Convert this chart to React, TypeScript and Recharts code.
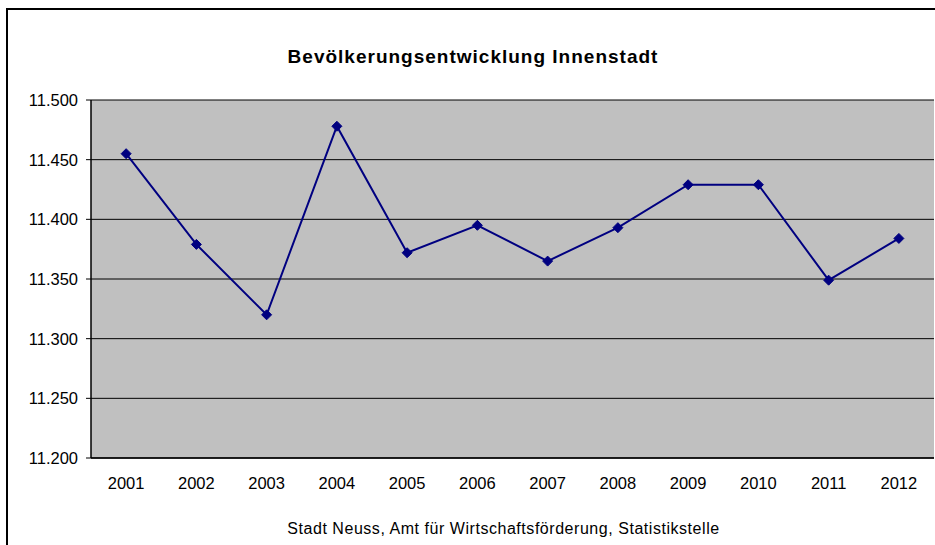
import React from "react";
import { LineChart, Line, XAxis, YAxis, CartesianGrid } from "recharts";

const years = ["2001", "2002", "2003", "2004", "2005", "2006", "2007", "2008", "2009", "2010", "2011", "2012"];
const einwohner = [11455, 11379, 11320, 11478, 11372, 11395, 11365, 11393, 11429, 11429, 11349, 11384];
const yTicks = [11200, 11250, 11300, 11350, 11400, 11450, 11500];

const data = years.map((year, i) => ({ x: i + 1, year, value: einwohner[i] }));
const labelTicks = years.map((_, i) => i + 1);
const boundaryTicks = years.slice(1).map((_, i) => i + 1.5);

const fmt = (v: number) => {
  const k = Math.floor(v / 1000);
  const r = String(v % 1000).padStart(3, "0");
  return `${k}.${r}`;
};

const Diamond = (props: any) => {
  const { cx, cy, index } = props;
  if (cx == null || cy == null) return null;
  const s = 5;
  return (
    <path
      key={index}
      d={`M${cx},${cy - s}L${cx + s},${cy}L${cx},${cy + s}L${cx - s},${cy}Z`}
      fill="#000080"
      stroke="#000080"
    />
  );
};

const font = "'Liberation Sans', Arial, sans-serif";
const tickStyle = { fontSize: 16.5, fill: "#000", fontFamily: font };

export default function App() {
  return (
    <div style={{ position: "absolute", left: 0, top: 0, width: 935, height: 545, overflow: "hidden", background: "#fff" }}>
      <div style={{ position: "absolute", left: 6, top: 8, width: 1200, height: 1000, border: "2px solid #000" }} />
      <div
        style={{
          position: "absolute", left: 0, width: 946, top: 47, textAlign: "center",
          fontFamily: font, fontSize: 19, lineHeight: "19px", fontWeight: "bold", letterSpacing: "1px", color: "#000",
        }}
      >
        Bevölkerungsentwicklung Innenstadt
      </div>
      <div
        style={{
          position: "absolute", left: 0, width: 1007, top: 521, textAlign: "center",
          fontFamily: font, fontSize: 16, lineHeight: "16px", letterSpacing: "0.54px", color: "#000",
        }}
      >
        Stadt Neuss, Amt für Wirtschaftsförderung, Statistikstelle
      </div>
      <div style={{ position: "absolute", left: 0, top: 0 }}>
        <LineChart width={935} height={545} data={data} margin={{ top: 100, right: 1, left: 0, bottom: 57 }}>
          <CartesianGrid vertical={false} stroke="#000" strokeWidth={1} fill="#C0C0C0" fillOpacity={1} />
          <XAxis
            dataKey="x"
            type="number"
            domain={[0.5, 12.5]}
            ticks={labelTicks}
            tickFormatter={(v: number) => years[v - 1]}
            tickLine={false}
            tickSize={0}
            tickMargin={19}
            height={30}
            stroke="#000"
            axisLine={{ stroke: "#000", strokeWidth: 1.5 }}
            tick={tickStyle}
            interval={0}
            allowDataOverflow
          />
          <XAxis
            xAxisId="marks"
            dataKey="x"
            type="number"
            domain={[0.5, 12.5]}
            ticks={boundaryTicks}
            tickFormatter={() => ""}
            tickSize={5}
            tickLine={{ stroke: "#000" }}
            axisLine={false}
            height={0}
            interval={0}
          />
          <XAxis
            xAxisId="top"
            orientation="top"
            type="number"
            domain={[0.5, 12.5]}
            tick={false}
            tickLine={false}
            height={0}
            axisLine={{ stroke: "#808080", strokeWidth: 2 }}
          />
          <YAxis
            domain={[11200, 11500]}
            ticks={yTicks}
            tickFormatter={fmt}
            width={91}
            tickSize={5}
            tickMargin={8}
            tick={tickStyle}
            tickLine={{ stroke: "#000" }}
            axisLine={{ stroke: "#000", strokeWidth: 1.5 }}
            interval={0}
          />
          <YAxis
            yAxisId="right"
            orientation="right"
            domain={[11200, 11500]}
            tick={false}
            tickLine={false}
            width={0}
            axisLine={{ stroke: "#808080", strokeWidth: 2 }}
          />
          <Line
            dataKey="value"
            stroke="#000080"
            strokeWidth={2}
            dot={<Diamond />}
            activeDot={false}
            isAnimationActive={false}
          />
        </LineChart>
      </div>
    </div>
  );
}
